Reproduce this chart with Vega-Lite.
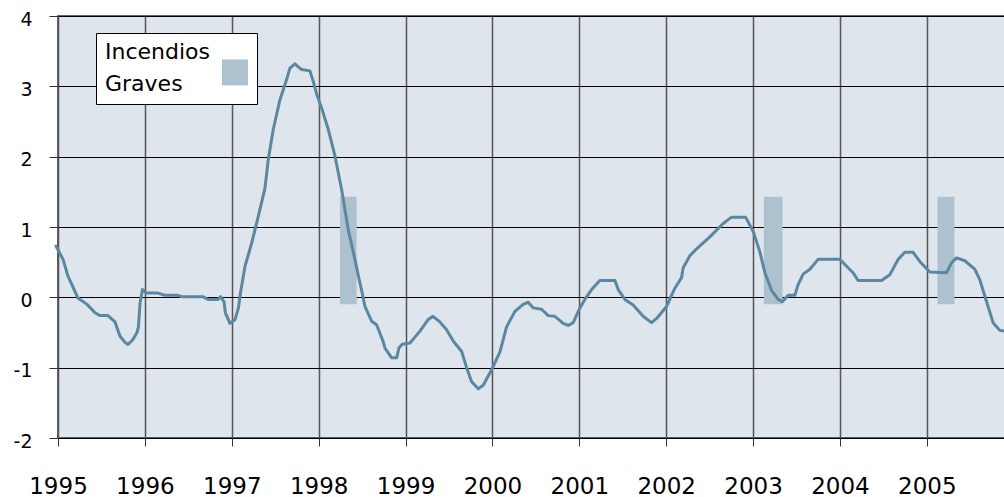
{
  "$schema": "https://vega.github.io/schema/vega-lite/v6.json",
  "autosize": {"type": "none"},
  "padding": {"left": 58, "top": 16, "right": 0, "bottom": 59},
  "width": 947,
  "height": 422,
  "background": "#ffffff",
  "config": {
    "view": {"fill": "#dfe5ec", "stroke": "#333333", "strokeWidth": 1.5},
    "font": "DejaVu Sans"
  },
  "datasets": {
    "serie": [
      {"t": 1994.977, "v": 0.73},
      {"t": 1995.058, "v": 0.54},
      {"t": 1995.115, "v": 0.30},
      {"t": 1995.230, "v": -0.01},
      {"t": 1995.334, "v": -0.10},
      {"t": 1995.426, "v": -0.22},
      {"t": 1995.483, "v": -0.26},
      {"t": 1995.575, "v": -0.26},
      {"t": 1995.656, "v": -0.35},
      {"t": 1995.713, "v": -0.55},
      {"t": 1995.771, "v": -0.64},
      {"t": 1995.806, "v": -0.67},
      {"t": 1995.863, "v": -0.60},
      {"t": 1995.909, "v": -0.50},
      {"t": 1995.926, "v": -0.42},
      {"t": 1995.944, "v": -0.08},
      {"t": 1995.972, "v": 0.11},
      {"t": 1996.018, "v": 0.06},
      {"t": 1996.151, "v": 0.06},
      {"t": 1996.231, "v": 0.03},
      {"t": 1996.369, "v": 0.03},
      {"t": 1996.427, "v": 0.01},
      {"t": 1996.669, "v": 0.01},
      {"t": 1996.726, "v": -0.03},
      {"t": 1996.841, "v": -0.03},
      {"t": 1996.870, "v": 0.01},
      {"t": 1996.910, "v": -0.06},
      {"t": 1996.927, "v": -0.22},
      {"t": 1996.979, "v": -0.37},
      {"t": 1997.037, "v": -0.32},
      {"t": 1997.077, "v": -0.15},
      {"t": 1997.100, "v": 0.06},
      {"t": 1997.152, "v": 0.44},
      {"t": 1997.229, "v": 0.77},
      {"t": 1997.305, "v": 1.15},
      {"t": 1997.382, "v": 1.55},
      {"t": 1997.420, "v": 1.96},
      {"t": 1997.478, "v": 2.39},
      {"t": 1997.555, "v": 2.81},
      {"t": 1997.632, "v": 3.10},
      {"t": 1997.670, "v": 3.26},
      {"t": 1997.727, "v": 3.32},
      {"t": 1997.762, "v": 3.28},
      {"t": 1997.804, "v": 3.24},
      {"t": 1997.900, "v": 3.22},
      {"t": 1997.938, "v": 3.07},
      {"t": 1997.980, "v": 2.88},
      {"t": 1998.035, "v": 2.69},
      {"t": 1998.110, "v": 2.39},
      {"t": 1998.188, "v": 2.01},
      {"t": 1998.265, "v": 1.53},
      {"t": 1998.341, "v": 0.96},
      {"t": 1998.418, "v": 0.54},
      {"t": 1998.458, "v": 0.30},
      {"t": 1998.495, "v": 0.10},
      {"t": 1998.533, "v": -0.13},
      {"t": 1998.610, "v": -0.34},
      {"t": 1998.667, "v": -0.39},
      {"t": 1998.743, "v": -0.63},
      {"t": 1998.763, "v": -0.72},
      {"t": 1998.840, "v": -0.86},
      {"t": 1998.898, "v": -0.86},
      {"t": 1998.924, "v": -0.72},
      {"t": 1998.959, "v": -0.67},
      {"t": 1998.993, "v": -0.66},
      {"t": 1999.051, "v": -0.65},
      {"t": 1999.166, "v": -0.48},
      {"t": 1999.258, "v": -0.32},
      {"t": 1999.315, "v": -0.27},
      {"t": 1999.396, "v": -0.35},
      {"t": 1999.473, "v": -0.46},
      {"t": 1999.549, "v": -0.62},
      {"t": 1999.646, "v": -0.77},
      {"t": 1999.703, "v": -1.00},
      {"t": 1999.761, "v": -1.20},
      {"t": 1999.837, "v": -1.30},
      {"t": 1999.894, "v": -1.25},
      {"t": 1999.991, "v": -1.03},
      {"t": 2000.086, "v": -0.78},
      {"t": 2000.163, "v": -0.42},
      {"t": 2000.259, "v": -0.20},
      {"t": 2000.354, "v": -0.10},
      {"t": 2000.412, "v": -0.07},
      {"t": 2000.470, "v": -0.15},
      {"t": 2000.566, "v": -0.17},
      {"t": 2000.642, "v": -0.26},
      {"t": 2000.719, "v": -0.27},
      {"t": 2000.815, "v": -0.37},
      {"t": 2000.872, "v": -0.40},
      {"t": 2000.930, "v": -0.36},
      {"t": 2001.007, "v": -0.15},
      {"t": 2001.064, "v": -0.03},
      {"t": 2001.142, "v": 0.11},
      {"t": 2001.237, "v": 0.24},
      {"t": 2001.410, "v": 0.24},
      {"t": 2001.448, "v": 0.11},
      {"t": 2001.525, "v": -0.03},
      {"t": 2001.620, "v": -0.11},
      {"t": 2001.735, "v": -0.27},
      {"t": 2001.832, "v": -0.36},
      {"t": 2001.890, "v": -0.30},
      {"t": 2002.005, "v": -0.13},
      {"t": 2002.100, "v": 0.13},
      {"t": 2002.177, "v": 0.28},
      {"t": 2002.196, "v": 0.42},
      {"t": 2002.273, "v": 0.59},
      {"t": 2002.350, "v": 0.69},
      {"t": 2002.503, "v": 0.86},
      {"t": 2002.656, "v": 1.05},
      {"t": 2002.753, "v": 1.14},
      {"t": 2002.914, "v": 1.14},
      {"t": 2003.001, "v": 0.94},
      {"t": 2003.078, "v": 0.65},
      {"t": 2003.136, "v": 0.35},
      {"t": 2003.213, "v": 0.10},
      {"t": 2003.289, "v": -0.03},
      {"t": 2003.340, "v": -0.06},
      {"t": 2003.404, "v": 0.03},
      {"t": 2003.481, "v": 0.03},
      {"t": 2003.519, "v": 0.18},
      {"t": 2003.577, "v": 0.33},
      {"t": 2003.654, "v": 0.40},
      {"t": 2003.749, "v": 0.54},
      {"t": 2003.999, "v": 0.54},
      {"t": 2004.094, "v": 0.42},
      {"t": 2004.152, "v": 0.35},
      {"t": 2004.209, "v": 0.24},
      {"t": 2004.479, "v": 0.24},
      {"t": 2004.574, "v": 0.32},
      {"t": 2004.670, "v": 0.54},
      {"t": 2004.747, "v": 0.64},
      {"t": 2004.842, "v": 0.64},
      {"t": 2004.919, "v": 0.51},
      {"t": 2005.035, "v": 0.36},
      {"t": 2005.227, "v": 0.35},
      {"t": 2005.284, "v": 0.49},
      {"t": 2005.342, "v": 0.56},
      {"t": 2005.437, "v": 0.52},
      {"t": 2005.552, "v": 0.40},
      {"t": 2005.610, "v": 0.25},
      {"t": 2005.687, "v": -0.06},
      {"t": 2005.763, "v": -0.36},
      {"t": 2005.840, "v": -0.47},
      {"t": 2005.886, "v": -0.48}
    ],
    "incendios": [
      {"start": 1998.245, "end": 1998.437, "top": 1.43, "base": -0.1, "serie": "Incendios Graves"},
      {"start": 2003.124, "end": 2003.339, "top": 1.43, "base": -0.1, "serie": "Incendios Graves"},
      {"start": 2005.123, "end": 2005.318, "top": 1.43, "base": -0.1, "serie": "Incendios Graves"}
    ]
  },
  "layer": [
    {
      "data": {"name": "incendios"},
      "mark": {"type": "rect", "opacity": 1},
      "encoding": {
        "x": {
          "field": "start", "type": "quantitative",
          "scale": {"domain": [1995, 2005.9], "nice": false, "zero": false},
          "axis": {
            "values": [1995, 1996, 1997, 1998, 1999, 2000, 2001, 2002, 2003, 2004, 2005],
            "format": "d", "title": null, "domain": false,
            "grid": true, "gridColor": "#555555", "gridWidth": 1.5, "gridOpacity": 1,
            "ticks": true, "tickSize": 8, "tickColor": "#333333", "tickWidth": 1,
            "labelFont": "DejaVu Sans", "labelFontSize": 23, "labelColor": "#000000",
            "labelBaseline": "alphabetic", "labelPadding": 47, "labelFlush": false, "labelOverlap": false
          }
        },
        "x2": {"field": "end"},
        "y": {
          "field": "top", "type": "quantitative",
          "scale": {"domain": [-2, 4], "nice": false, "zero": false},
          "axis": {
            "values": [-2, -1, 0, 1, 2, 3, 4],
            "labelExpr": "'' + datum.value",
            "title": null, "domain": false,
            "grid": true, "gridColor": "#000000", "gridWidth": 1, "gridOpacity": 1,
            "ticks": true, "tickSize": 9, "tickColor": "#333333", "tickWidth": 1,
            "labelFont": "DejaVu Sans", "labelFontSize": 19, "labelColor": "#000000",
            "labelPadding": 17, "labelOffset": 3, "labelFlush": false
          }
        },
        "y2": {"field": "base"},
        "color": {
          "field": "serie", "type": "nominal",
          "scale": {"range": ["#adc2ce"]},
          "legend": {
            "orient": "none", "legendX": 38, "legendY": 17,
            "title": ["Incendios", "Graves"], "titleOrient": "left",
            "titleFont": "DejaVu Sans", "titleFontSize": 22, "titleFontWeight": "normal",
            "titleLineHeight": 32, "titleColor": "#000000", "titlePadding": 11,
            "titleBaseline": "top", "titleAnchor": "start",
            "symbolType": "M-1,0.34H1V2.34H-1Z", "symbolSize": 676, "symbolStrokeWidth": 0, "symbolOpacity": 1,
            "labelExpr": "''", "labelOffset": 0,
            "fillColor": "#ffffff", "strokeColor": "#000000", "padding": 9, "cornerRadius": 0
          }
        }
      }
    },
    {
      "mark": {"type": "rule", "color": "#000000", "strokeWidth": 3},
      "encoding": {"y": {"datum": -0.1, "type": "quantitative"}}
    },
    {
      "data": {"name": "serie"},
      "mark": {"type": "line", "color": "#5b87a0", "strokeWidth": 3, "strokeJoin": "round", "strokeCap": "round"},
      "encoding": {
        "x": {"field": "t", "type": "quantitative"},
        "y": {"field": "v", "type": "quantitative"}
      }
    }
  ]
}
